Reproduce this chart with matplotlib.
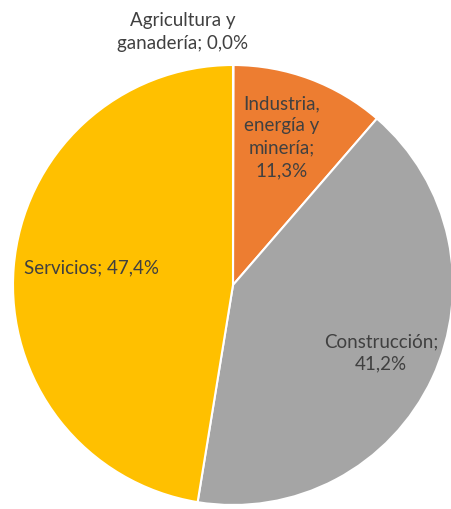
import matplotlib.pyplot as plt

sectors = ['Agricultura y\nganadería', 'Industria,\nenergía y\nminería', 'Construcción', 'Servicios']
shares = [0.04, 11.3, 41.2, 47.4]
share_labels = ['0,0%', '11,3%', '41,2%', '47,4%']
colors = ['#4472C4', '#ED7D31', '#A5A5A5', '#FFC000']

W, H = 452, 509
cx, cy, r = 233, 285, 220

fig = plt.figure(figsize=(W / 100, H / 100), dpi=100)
ax = fig.add_axes([(cx - r) / W, (H - cy - r) / H, 2 * r / W, 2 * r / H])
ax.pie(shares, colors=colors, startangle=90, counterclock=False, radius=1,
       wedgeprops=dict(edgecolor='white', linewidth=1.5))
ax.set_xlim(-1, 1)
ax.set_ylim(-1, 1)
ax.set_aspect('auto')
ax.axis('off')

# label texts and positions (data coords, radius = 1)
texts = [
    'Agricultura y\nganadería; ' + share_labels[0],
    'Industria,\nenergía y\nminería;\n' + share_labels[1],
    'Construcción;\n' + share_labels[2],
    'Servicios; ' + share_labels[3],
]
pos = [(-0.227, 1.15), (0.223, 0.673), (0.673, -0.309), (-0.645, 0.077)]
for t, (x, y) in zip(texts, pos):
    ax.text(x, y, t, ha='center', va='center', fontsize=13.5, family='Lato',
            color='#404040', linespacing=1.38, clip_on=False)

fig.savefig('out.png', dpi=100)
